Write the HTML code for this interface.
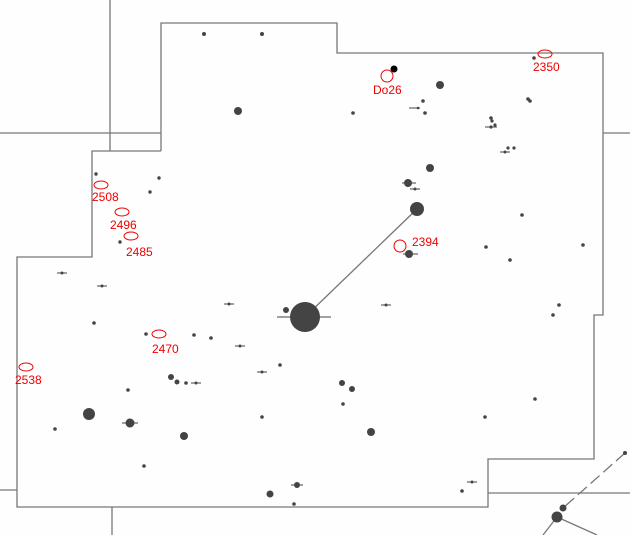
<!DOCTYPE html>
<html><head><style>html,body{margin:0;padding:0;background:#fff;}svg{display:block}</style></head>
<body>
<svg width="630" height="535" viewBox="0 0 630 535" xmlns="http://www.w3.org/2000/svg">
<rect width="630" height="535" fill="#fefefe"/>
<g stroke="#777" stroke-width="1.3" fill="none">
<polyline points="161,151 161,23 337,23 337,53 603,53 603,315 594,315 594,459 488,459 488,507 17,507 17,257 92,257 92,151 161,151"/>
<line x1="110" y1="0" x2="110" y2="151"/>
<line x1="0" y1="133" x2="161" y2="133"/>
<line x1="603" y1="133" x2="630" y2="133"/>
<line x1="0" y1="490" x2="17" y2="490"/>
<line x1="112" y1="507" x2="112" y2="535"/>
<line x1="488" y1="493" x2="630" y2="493"/>
<line x1="305" y1="317" x2="417" y2="209"/>
<line x1="625" y1="453" x2="563" y2="508" stroke-dasharray="12,5"/>
<line x1="557" y1="517" x2="543" y2="535"/>
<line x1="557" y1="517" x2="597" y2="535"/>
<g stroke="#444" stroke-width="1">
<line x1="277" y1="317" x2="331" y2="317"/>
<line x1="402" y1="183" x2="416" y2="183"/>
<line x1="410" y1="189" x2="420" y2="189"/>
<line x1="403" y1="254" x2="418" y2="254"/>
<line x1="409" y1="108" x2="420" y2="108"/>
<line x1="485" y1="127" x2="497" y2="127"/>
<line x1="500" y1="152" x2="510" y2="152"/>
<line x1="57" y1="273" x2="67" y2="273"/>
<line x1="97" y1="286" x2="107" y2="286"/>
<line x1="224" y1="304" x2="234" y2="304"/>
<line x1="381" y1="305" x2="391" y2="305"/>
<line x1="235" y1="346" x2="245" y2="346"/>
<line x1="191" y1="383" x2="201" y2="383"/>
<line x1="257" y1="372" x2="267" y2="372"/>
<line x1="122" y1="423" x2="138" y2="423"/>
<line x1="291" y1="485" x2="303" y2="485"/>
<line x1="467" y1="482" x2="477" y2="482"/>
</g>
</g>
<g fill="#444">
<circle cx="305" cy="317" r="15"/>
<circle cx="417" cy="209" r="7"/>
<circle cx="204" cy="34" r="2"/><circle cx="262" cy="34" r="2"/><circle cx="238" cy="111" r="4"/>
<circle cx="96" cy="174" r="1.7"/><circle cx="159" cy="178" r="1.7"/><circle cx="150" cy="192" r="1.7"/><circle cx="120" cy="242" r="1.7"/>
<circle cx="394" cy="69" r="3.5" fill="#000"/>
<circle cx="440" cy="85" r="4"/><circle cx="423" cy="101" r="1.8"/><circle cx="425" cy="113" r="1.8"/><circle cx="353" cy="113" r="1.8"/>
<circle cx="528" cy="99" r="1.8"/><circle cx="530" cy="101" r="1.8"/>
<circle cx="491" cy="118" r="1.8"/><circle cx="492" cy="121" r="1.6"/><circle cx="495" cy="125" r="1.6"/><circle cx="491" cy="127" r="1.6"/>
<circle cx="508" cy="148" r="1.6"/><circle cx="514" cy="148" r="1.6"/><circle cx="505" cy="152" r="1.5"/>
<circle cx="430" cy="168" r="4"/><circle cx="408" cy="183" r="4"/><circle cx="415" cy="189" r="1.5"/>
<circle cx="409" cy="254" r="4"/><circle cx="486" cy="247" r="1.8"/><circle cx="510" cy="260" r="1.8"/><circle cx="583" cy="245" r="1.8"/><circle cx="522" cy="215" r="1.8"/><circle cx="534" cy="58" r="1.8"/><circle cx="418" cy="108" r="1.3"/>
<circle cx="62" cy="273" r="1.5"/><circle cx="102" cy="286" r="1.5"/><circle cx="229" cy="304" r="1.5"/><circle cx="286" cy="310" r="3"/><circle cx="386" cy="305" r="1.5"/>
<circle cx="559" cy="305" r="1.8"/><circle cx="553" cy="315" r="1.8"/><circle cx="94" cy="323" r="1.8"/><circle cx="146" cy="334" r="1.8"/><circle cx="194" cy="335" r="1.8"/><circle cx="211" cy="338" r="1.8"/><circle cx="240" cy="346" r="1.5"/>
<circle cx="171" cy="377" r="3"/><circle cx="177" cy="382" r="2.5"/><circle cx="186" cy="383" r="1.8"/><circle cx="196" cy="383" r="1.5"/><circle cx="128" cy="390" r="1.8"/><circle cx="262" cy="372" r="1.5"/><circle cx="280" cy="365" r="1.8"/>
<circle cx="342" cy="383" r="3"/><circle cx="352" cy="389" r="3"/><circle cx="343" cy="404" r="1.8"/><circle cx="262" cy="417" r="1.8"/><circle cx="535" cy="399" r="1.8"/><circle cx="485" cy="417" r="1.8"/>
<circle cx="89" cy="414" r="6"/><circle cx="130" cy="423" r="4.5"/><circle cx="184" cy="436" r="4"/><circle cx="371" cy="432" r="4"/><circle cx="55" cy="429" r="1.8"/><circle cx="144" cy="466" r="1.8"/>
<circle cx="297" cy="485" r="3"/><circle cx="270" cy="494" r="3.5"/><circle cx="294" cy="504" r="1.8"/><circle cx="472" cy="482" r="1.5"/><circle cx="462" cy="491" r="1.8"/><circle cx="625" cy="453" r="2"/>
<circle cx="557" cy="517" r="5.5"/><circle cx="563" cy="508" r="3.5"/>
</g>
<g fill="none" stroke="#e00" stroke-width="1">
<ellipse cx="545" cy="54" rx="7" ry="4"/>
<circle cx="387" cy="76" r="6"/>
<ellipse cx="101" cy="185" rx="7" ry="4"/>
<ellipse cx="122" cy="212" rx="7" ry="4"/>
<ellipse cx="131" cy="236" rx="7" ry="4"/>
<circle cx="400" cy="246" r="6"/>
<ellipse cx="159" cy="334" rx="7" ry="4"/>
<ellipse cx="26" cy="367" rx="7" ry="4"/>
</g>
<g fill="#e00" font-family="Liberation Sans, sans-serif" font-size="12">
<text x="533" y="71">2350</text>
<text x="373" y="94">Do26</text>
<text x="92" y="201">2508</text>
<text x="110" y="229">2496</text>
<text x="126" y="256">2485</text>
<text x="412" y="246">2394</text>
<text x="152" y="353">2470</text>
<text x="15" y="384">2538</text>
</g>
</svg>
</body></html>
